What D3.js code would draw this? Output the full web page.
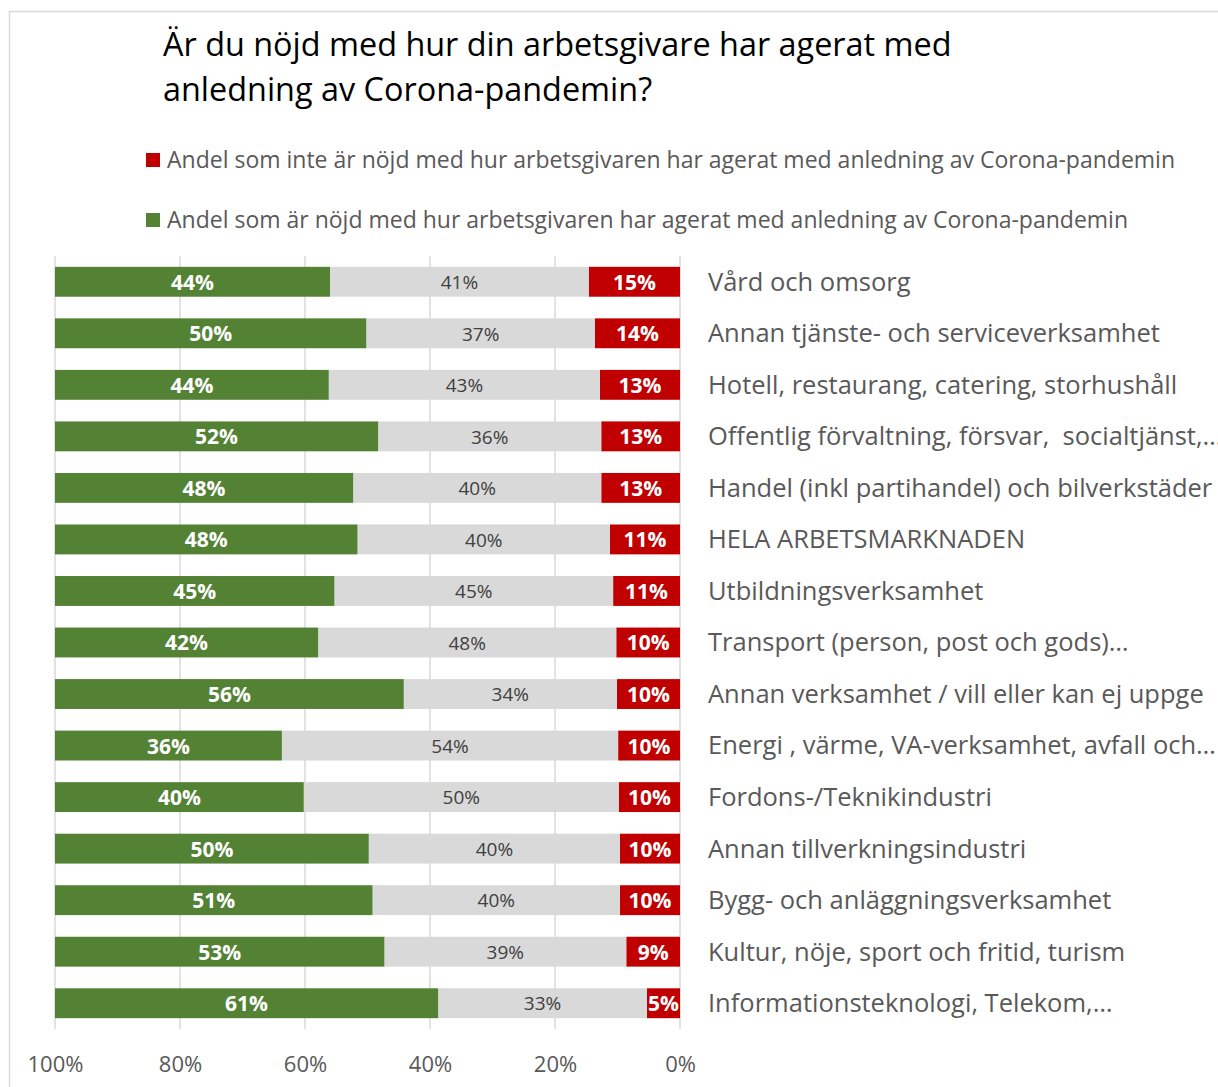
<!DOCTYPE html>
<html>
<head>
<meta charset="utf-8">
<script src="https://cdn.jsdelivr.net/npm/d3@7"></script>
<style>
  body { margin: 0; background: #fff; }
  text { font-family: "Open Sans", Lato, sans-serif; white-space: pre; }
</style>
</head>
<body>
<div id="chart-area"></div>
<script>
// categories top to bottom
var categories = [
    "Vård och omsorg",
    "Annan tjänste- och serviceverksamhet",
    "Hotell, restaurang, catering, storhushåll",
    "Offentlig förvaltning, försvar,  socialtjänst,…",
    "Handel (inkl partihandel) och bilverkstäder",
    "HELA ARBETSMARKNADEN",
    "Utbildningsverksamhet",
    "Transport (person, post och gods)…",
    "Annan verksamhet / vill eller kan ej uppge",
    "Energi , värme, VA-verksamhet, avfall och…",
    "Fordons-/Teknikindustri",
    "Annan tillverkningsindustri",
    "Bygg- och anläggningsverksamhet",
    "Kultur, nöje, sport och fritid, turism",
    "Informationsteknologi, Telekom,…"
];

// shares in percent
var notSatisfied = [14.6, 13.6, 12.8, 12.6, 12.6, 11.2, 10.7, 10.2, 10.1, 9.9, 9.8, 9.6, 9.6, 8.6, 5.3];
var neutral      = [41.4, 36.6, 43.4, 35.7, 39.7, 40.4, 44.6, 47.7, 34.1, 53.8, 50.4, 40.2, 39.6, 38.7, 33.4];
var satisfied    = [44.0, 49.8, 43.8, 51.7, 47.7, 48.4, 44.7, 42.1, 55.8, 36.3, 39.8, 50.2, 50.8, 52.7, 61.3];

var xTicks = [100, 80, 60, 40, 20, 0];

var legendLabels = [
    "Andel som inte är nöjd med hur arbetsgivaren har agerat med anledning av Corona-pandemin",
    "Andel som är nöjd med hur arbetsgivaren har agerat med anledning av Corona-pandemin"
];

var red = "#c00000", green = "#548235", grey = "#d9d9d9";

var width = 1218, height = 1087;

var svg = d3.select("#chart-area")
    .append("svg")
    .attr("width", width)
    .attr("height", height);

// chart frame
svg.append("path")
    .attr("d", "M9.5," + height + "V11.5H" + width)
    .attr("fill", "none")
    .attr("stroke", "#d9d9d9")
    .attr("stroke-width", 1.5);

// title
var title = svg.append("text")
    .attr("x", 163)
    .attr("y", 56)
    .attr("font-size", "32.4px")
    .attr("fill", "#000");
title.append("tspan").attr("x", 163).text("Är du nöjd med hur din arbetsgivare har agerat med");
title.append("tspan").attr("x", 163).attr("dy", 45).text("anledning av Corona-pandemin?");

// legend
var legendColors = [red, green];
legendLabels.forEach(function (lab, i) {
    var ly = 160 + i * 60;
    svg.append("rect")
        .attr("x", 146).attr("y", ly - 7)
        .attr("width", 14).attr("height", 14)
        .attr("fill", legendColors[i]);
    svg.append("text")
        .attr("x", 167).attr("y", ly)
        .attr("dy", "0.35em")
        .attr("font-size", "23px")
        .attr("fill", "#595959")
        .text(lab);
});

var x = d3.scaleLinear()
    .domain([100, 0])
    .range([55, 680]);

var y = d3.scaleBand()
    .domain(categories)
    .range([256, 1029])
    .paddingInner(0.42)
    .paddingOuter(0.21);

// gridlines
svg.selectAll(".grid")
    .data(xTicks)
    .enter()
    .append("line")
    .attr("x1", function (d) { return x(d); })
    .attr("x2", function (d) { return x(d); })
    .attr("y1", 256)
    .attr("y2", 1029)
    .attr("stroke", "#d9d9d9")
    .attr("stroke-width", 1.5);

// stacked segments: red from 0, grey next, green last
var rows = categories.map(function (c, i) {
    var r = notSatisfied[i], g = neutral[i], s = satisfied[i];
    return [
        {cat: c, x0: 0, x1: r, v: r, fill: red, label: "#fff", bold: true},
        {cat: c, x0: r, x1: r + g, v: g, fill: grey, label: "#404040", bold: false},
        {cat: c, x0: r + g, x1: 100, v: s, fill: green, label: "#fff", bold: true}
    ];
});
var segs = [].concat.apply([], rows);

svg.selectAll(".seg")
    .data(segs)
    .enter()
    .append("rect")
    .attr("x", function (d) { return x(d.x1); })
    .attr("width", function (d) { return x(d.x0) - x(d.x1); })
    .attr("y", function (d) { return y(d.cat); })
    .attr("height", y.bandwidth())
    .attr("fill", function (d) { return d.fill; });

svg.selectAll(".val")
    .data(segs)
    .enter()
    .append("text")
    .attr("x", function (d) { return (x(d.x0) + x(d.x1)) / 2; })
    .attr("y", function (d) { return y(d.cat) + y.bandwidth() / 2; })
    .attr("dy", "0.38em")
    .attr("text-anchor", "middle")
    .attr("font-size", function (d) { return d.bold ? "21px" : "19px"; })
    .attr("font-weight", function (d) { return d.bold ? "bold" : "normal"; })
    .attr("fill", function (d) { return d.label; })
    .text(function (d) { return Math.round(d.v) + "%"; });

// category labels on the right
svg.selectAll(".cat")
    .data(categories)
    .enter()
    .append("text")
    .attr("x", 708)
    .attr("y", function (d) { return y(d) + y.bandwidth() / 2; })
    .attr("dy", "0.35em")
    .attr("font-size", "25.5px")
    .attr("fill", "#595959")
    .text(function (d) { return d; });

// x axis
var xAxis = d3.axisBottom(x)
    .tickValues(xTicks)
    .tickSize(0)
    .tickPadding(0)
    .tickFormat(function (d) { return d + "%"; });

var ax = svg.append("g")
    .attr("transform", "translate(0,1064)")
    .call(xAxis);
ax.select(".domain").remove();
ax.selectAll("text")
    .attr("font-size", "22px")
    .attr("font-family", "'Open Sans', Lato, sans-serif")
    .attr("fill", "#595959")
    .attr("dy", "0.35em");
</script>
</body>
</html>
